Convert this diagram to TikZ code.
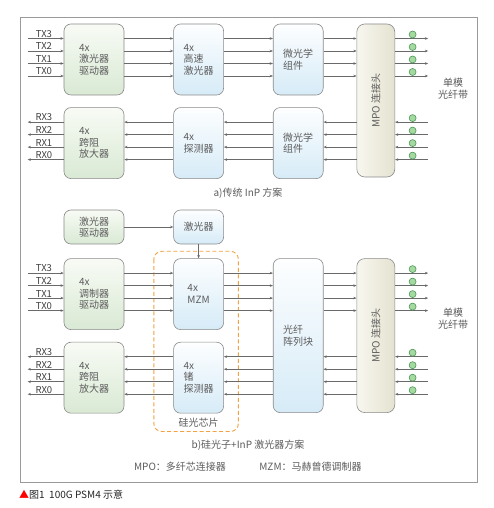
\documentclass[tikz,border=0pt]{standalone}
\usepackage{fontspec}
\usepackage{graphicx}
\setmainfont{Noto Sans CJK SC}
\usetikzlibrary{arrows.meta, positioning}

\definecolor{edge}{HTML}{8A8A8A}
\definecolor{grntop}{HTML}{F8FBF5}
\definecolor{grnbot}{HTML}{D9E9D4}
\definecolor{blutop}{HTML}{FDFEFF}
\definecolor{blubot}{HTML}{D6EBF7}
\definecolor{mpoleft}{HTML}{F8F7EF}
\definecolor{mporight}{HTML}{E4E2D0}
\definecolor{wire}{HTML}{6A6A6A}
\definecolor{txtgray}{HTML}{5C5C5C}
\definecolor{fibfill}{HTML}{A6D8A2}
\definecolor{fibedge}{HTML}{4A9A55}
\definecolor{chiporange}{HTML}{F2A243}
\definecolor{framegray}{HTML}{9A9A9A}

\begin{document}
\begin{tikzpicture}[
  x=1pt, y=1pt,
  node distance = 12pt and 49pt,
  grnbox/.style = {draw=edge, line width=0.6pt, rounded corners=7pt,
                   top color=grntop, bottom color=grnbot,
                   minimum width=60pt, minimum height=71pt, align=left,
                   text=txtgray, font=\fontsize{10}{11.5}\selectfont},
  blubox/.style = {grnbox, top color=blutop, bottom color=blubot,
                   minimum width=50pt},
  mpobox/.style = {draw=edge, line width=0.6pt, rounded corners=8pt,
                   left color=mpoleft, right color=mporight,
                   minimum width=38pt, anchor=north west,
                   text=txtgray, font=\fontsize{10}{11.5}\selectfont},
  arr/.style    = {-{Stealth[length=3.2pt, width=2.6pt]}, line width=0.5pt, wire},
  fib/.style    = {circle, draw=fibedge, fill=fibfill, line width=0.6pt,
                   minimum size=7pt, inner sep=0pt},
  lbl/.style    = {font=\fontsize{9.5}{10}\selectfont, text=black!75, inner sep=0.8pt},
  sect/.style   = {font=\fontsize{10}{11.5}\selectfont, text=txtgray, align=center},
  chip/.style   = {draw=chiporange, line width=0.9pt, rounded corners=8pt,
                   dash pattern=on 4pt off 2.5pt},
]
  \fill[white] (0,0) rectangle (494,508);
  \useasboundingbox (0,0) rectangle (494,508);
  \draw[framegray, line width=0.7pt] (20,26) rectangle (477,491);

  % a) InP
  \node[grnbox] (lda) at (94,448.5) {4x\\激光器\\驱动器};
  \node[blubox, right=of lda] (hla) {4x\\高速\\激光器};
  \node[blubox, right=of hla] (mca) {微光学\\组件};
  \node[grnbox, below=of lda] (tia) {4x\\跨阻\\放大器};
  \node[blubox, right=of tia] (pda) {4x\\探测器};
  \node[blubox, right=of pda] (mcr) {微光学\\组件};
  \node[mpobox, minimum height=153pt] (mpoa) at ([xshift=33]mca.north east)
       {\rotatebox{90}{MPO 连接头}};

  \foreach \n/\d in {3/21,2/8.5,1/-4,0/-16.5}{
    \coordinate (txa\n) at ([shift={(-36,\d)}]lda.west);
    \draw[arr] (txa\n) -- node[lbl, above, pos=0.45]{TX\n} ([yshift=\d]lda.west);
    \draw[arr] ([yshift=\d]lda.east) -- ([yshift=\d]hla.west);
    \draw[arr] ([yshift=\d]hla.east) -- ([yshift=\d]mca.west);
    \coordinate (ya\n) at ([yshift=\d]mca.east);
    \coordinate (ea\n) at (ya\n -| mpoa.east);
    \coordinate (oa\n) at ([xshift=33]ea\n);
    \draw[arr] (ya\n) -- (ya\n -| mpoa.west);
    \draw[arr] (ea\n) -- (oa\n);
    \node[fib] (fta\n) at ([shift={(17.5,4)}]ea\n) {};
    % receive
    \coordinate (yr\n) at ([yshift=\d]mcr.east);
    \coordinate (er\n) at (yr\n -| mpoa.east);
    \coordinate (ir\n) at ([xshift=33]er\n);
    \draw[arr] (ir\n) -- (er\n);
    \draw[arr] (yr\n -| mpoa.west) -- (yr\n);
    \draw[arr] ([yshift=\d]mcr.west) -- ([yshift=\d]pda.east);
    \draw[arr] ([yshift=\d]pda.west) -- ([yshift=\d]tia.east);
    \coordinate (rxa\n) at ([shift={(-36,\d)}]tia.west);
    \draw[arr] ([yshift=\d]tia.west) -- node[lbl, above, pos=0.55]{RX\n} (rxa\n);
    \node[fib] (fra\n) at ([shift={(17.5,4)}]er\n) {};
  }
  \node[sect] (smfa) at (453,419.5) {单模\\光纤带};
  \node[sect] (capa) at (248,315) {a)传统 InP 方案};

  % b) silicon photonics
  \node[grnbox, minimum height=34pt] (ldb) at (94,281) {激光器\\驱动器};
  \node[blubox, minimum height=34pt, right=of ldb] (lsb) {激光器};
  \node[grnbox, below=14pt of ldb] (mdb) {4x\\调制器\\驱动器};
  \node[blubox, right=of mdb] (mzm) {4x\\MZM};
  \node[grnbox, below=of mdb] (tib) {4x\\跨阻\\放大器};
  \node[blubox, right=of tib] (gepd) {4x\\锗\\探测器};
  \node[blubox, minimum height=154pt, anchor=north west] (fab)
       at ([xshift=49]mzm.north east) {光纤\\阵列块};
  \node[mpobox, minimum height=154pt] (mpob) at ([xshift=33]fab.north east)
       {\rotatebox{90}{MPO 连接头}};
  \draw[arr] (ldb) -- (lsb);
  \draw[arr] (lsb) -- (mzm);

  \coordinate (chipnw) at ([shift={(-19.5,7)}]mzm.north west);
  \coordinate (chipse) at ([shift={(14.5,-18)}]gepd.south east);
  \draw[chip] (chipnw) rectangle (chipse);
  \node[sect] (chiplbl) at ([yshift=-9.5]gepd.south) {硅光芯片};

  \foreach \n/\d in {3/21,2/8.5,1/-4,0/-16.5}{
    \coordinate (txb\n) at ([shift={(-36,\d)}]mdb.west);
    \draw[arr] (txb\n) -- node[lbl, above, pos=0.45]{TX\n} ([yshift=\d]mdb.west);
    \draw[arr] ([yshift=\d]mdb.east) -- ([yshift=\d]mzm.west);
    \coordinate (yb\n) at ([yshift=\d]mzm.east);
    \draw[arr] (yb\n) -- (yb\n -| fab.west);
    \draw[arr] (yb\n -| fab.east) -- (yb\n -| mpob.west);
    \coordinate (eb\n) at (yb\n -| mpob.east);
    \coordinate (ob\n) at ([xshift=33]eb\n);
    \draw[arr] (eb\n) -- (ob\n);
    \node[fib] (ftb\n) at ([shift={(17.5,4)}]eb\n) {};
    % receive
    \coordinate (ys\n) at ([yshift=\d]gepd.east);
    \coordinate (es\n) at (ys\n -| mpob.east);
    \coordinate (is\n) at ([xshift=33]es\n);
    \draw[arr] (is\n) -- (es\n);
    \draw[arr] (ys\n -| mpob.west) -- (ys\n -| fab.east);
    \draw[arr] (ys\n -| fab.west) -- (ys\n);
    \draw[arr] ([yshift=\d]gepd.west) -- ([yshift=\d]tib.east);
    \coordinate (rxb\n) at ([shift={(-36,\d)}]tib.west);
    \draw[arr] ([yshift=\d]tib.west) -- node[lbl, above, pos=0.55]{RX\n} (rxb\n);
    \node[fib] (frb\n) at ([shift={(17.5,4)}]es\n) {};
  }
  \node[sect] (smfb) at (453,189.5) {单模\\光纤带};
  \node[sect] (capb) at (248,63) {b)硅光子+InP 激光器方案};

  \node[sect] (keympo) at (180,41) {MPO：多纤芯连接器};
  \node[sect] (keymzm) at (310.5,41) {MZM：马赫曾德调制器};
  \node[anchor=west, font=\fontsize{10}{12}\selectfont, text=black!85, inner sep=0pt]
       (figcap) at (19,13) {\textcolor{red}{▲}图1\ \ 100G PSM4 示意};
\end{tikzpicture}
\end{document}
